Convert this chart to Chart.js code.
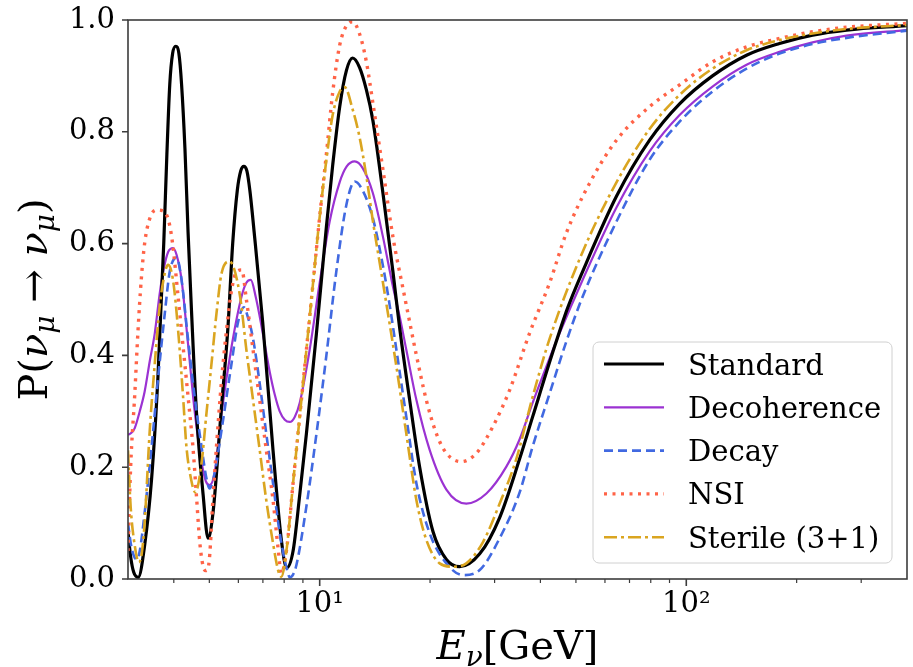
<!DOCTYPE html>
<html><head><meta charset="utf-8">
<script src="https://cdn.jsdelivr.net/npm/chart.js@4.4.1/dist/chart.umd.min.js"></script>
<style>html,body{margin:0;padding:0;background:#fff}canvas{display:block}</style>
</head><body>
<canvas id="c" width="913" height="667"></canvas>
<script>
// ---------- data ----------
const seriesLabels = ['Standard', 'Decoherence', 'Decay', 'NSI', 'Sterile (3+1)'];

const standardE = [3.0, 3.05, 3.11, 3.2, 3.33, 3.48, 3.62, 3.755, 3.83, 3.9, 3.97, 4.05, 4.13, 4.2, 4.29, 4.375, 4.47, 4.61, 4.81, 4.96, 5.12, 5.4, 5.62, 5.79, 5.96, 6.09, 6.21, 6.33, 6.45, 6.65, 6.99, 7.46, 7.86, 8.13, 8.46, 8.82, 9.2, 9.8, 10.43, 10.85, 11.34, 11.83, 12.3, 12.85, 13.41, 13.97, 14.88, 15.84, 16.52, 17.6, 18.74, 20.37, 22.16, 24.09, 27.32, 30.97, 35.11, 38.09, 43.2, 47.47, 52.14, 64.55, 79.41, 95.88, 117.9, 146, 179.6, 221, 273.6, 400];
const standardP = [0.085, 0.04, 0.012, 0.003, 0.06, 0.18, 0.36, 0.60, 0.76, 0.885, 0.94, 0.953, 0.94, 0.885, 0.77, 0.62, 0.48, 0.30, 0.15, 0.073, 0.12, 0.31, 0.45, 0.60, 0.695, 0.73, 0.738, 0.73, 0.695, 0.61, 0.46, 0.23, 0.07, 0.02, 0.05, 0.15, 0.26, 0.44, 0.63, 0.74, 0.845, 0.91, 0.932, 0.915, 0.875, 0.82, 0.69, 0.55, 0.45, 0.32, 0.20, 0.085, 0.035, 0.022, 0.045, 0.11, 0.215, 0.29, 0.405, 0.485, 0.55, 0.685, 0.785, 0.85, 0.90, 0.937, 0.958, 0.973, 0.982, 0.99];

const decoherenceE = [3.0, 3.07, 3.13, 3.23, 3.33, 3.44, 3.55, 3.66, 3.755, 3.86, 3.98, 4.07, 4.2, 4.375, 4.56, 4.76, 4.89, 5.01, 5.17, 5.4, 5.75, 6.12, 6.31, 6.49, 6.69, 6.86, 7.08, 7.31, 7.54, 7.78, 8.03, 8.29, 8.55, 8.82, 9.39, 10, 10.65, 11.34, 11.85, 12.46, 13.1, 13.97, 14.88, 15.84, 16.52, 17.23, 18.36, 19.95, 22.16, 25.12, 28.5, 32.3, 35.11, 38.09, 42.39, 45.14, 52.14, 64.55, 79.41, 95.88, 117.9, 146, 179.6, 221, 273.6, 400];
const decoherenceP = [0.258, 0.262, 0.27, 0.30, 0.335, 0.39, 0.44, 0.51, 0.555, 0.585, 0.592, 0.58, 0.535, 0.42, 0.30, 0.21, 0.175, 0.168, 0.19, 0.297, 0.416, 0.505, 0.53, 0.535, 0.505, 0.47, 0.42, 0.37, 0.33, 0.30, 0.285, 0.281, 0.29, 0.315, 0.41, 0.53, 0.64, 0.71, 0.738, 0.747, 0.735, 0.69, 0.612, 0.523, 0.47, 0.41, 0.32, 0.231, 0.16, 0.135, 0.153, 0.201, 0.25, 0.315, 0.395, 0.44, 0.535, 0.665, 0.765, 0.83, 0.881, 0.92, 0.943, 0.96, 0.972, 0.982];

const decayE = [3.0, 3.05, 3.11, 3.17, 3.23, 3.33, 3.48, 3.62, 3.78, 3.9, 4.07, 4.2, 4.375, 4.56, 4.76, 4.91, 5.01, 5.17, 5.4, 5.75, 5.99, 6.21, 6.36, 6.58, 6.86, 7.15, 7.46, 7.78, 8.12, 8.29, 8.46, 8.64, 9.2, 9.8, 10.43, 11.1, 11.83, 12.46, 13.1, 13.97, 14.88, 15.52, 16.19, 17.23, 18.36, 19.95, 22.16, 24.59, 27.32, 30.97, 35.11, 38.1, 42.39, 47.08, 52.14, 64.55, 79.41, 95.88, 117.9, 146, 179.6, 221, 273.6, 400];
const decayP = [0.10, 0.065, 0.042, 0.035, 0.05, 0.118, 0.237, 0.356, 0.475, 0.55, 0.575, 0.535, 0.428, 0.326, 0.237, 0.18, 0.162, 0.19, 0.267, 0.386, 0.46, 0.486, 0.47, 0.43, 0.35, 0.26, 0.171, 0.082, 0.02, 0.003, 0.008, 0.025, 0.13, 0.26, 0.40, 0.55, 0.67, 0.711, 0.695, 0.645, 0.56, 0.49, 0.41, 0.29, 0.171, 0.082, 0.028, 0.007, 0.016, 0.073, 0.155, 0.237, 0.332, 0.425, 0.505, 0.64, 0.75, 0.818, 0.872, 0.913, 0.94, 0.957, 0.968, 0.981];

const nsiE = [3.0, 3.05, 3.13, 3.195, 3.26, 3.33, 3.44, 3.59, 3.755, 3.875, 3.97, 4.11, 4.24, 4.375, 4.51, 4.61, 4.71, 4.8, 4.89, 4.98, 5.12, 5.23, 5.4, 5.57, 5.75, 5.94, 6.13, 6.31, 6.58, 6.86, 7.15, 7.46, 7.7, 7.86, 8.12, 8.46, 8.82, 9.2, 9.59, 10, 10.43, 10.85, 11.34, 11.83, 12.3, 12.85, 13.41, 13.97, 14.88, 15.84, 16.87, 17.41, 18.36, 19.54, 20.81, 22.16, 24.35, 26.75, 29.69, 32.97, 37.38, 42.39, 47.08, 54.48, 64.5, 79.41, 95.88, 117.9, 146, 179.6, 221, 273.6, 400];
const nsiP = [0.05, 0.2, 0.33, 0.445, 0.535, 0.60, 0.645, 0.66, 0.658, 0.64, 0.60, 0.505, 0.416, 0.326, 0.237, 0.15, 0.065, 0.025, 0.015, 0.025, 0.147, 0.237, 0.356, 0.445, 0.517, 0.55, 0.553, 0.50, 0.41, 0.32, 0.231, 0.141, 0.055, 0.01, 0.052, 0.171, 0.29, 0.41, 0.529, 0.648, 0.76, 0.87, 0.955, 0.99, 0.997, 0.975, 0.925, 0.851, 0.732, 0.612, 0.52, 0.475, 0.40, 0.32, 0.26, 0.225, 0.21, 0.225, 0.273, 0.338, 0.44, 0.53, 0.619, 0.708, 0.785, 0.845, 0.884, 0.925, 0.952, 0.967, 0.979, 0.987, 0.994];

const sterileE = [3.0, 3.05, 3.13, 3.21, 3.27, 3.33, 3.44, 3.55, 3.66, 3.78, 3.86, 3.98, 4.11, 4.24, 4.33, 4.47, 4.58, 4.76, 4.91, 5.07, 5.23, 5.4, 5.68, 6.05, 6.31, 6.58, 6.86, 7.15, 7.46, 7.7, 7.86, 8.12, 8.46, 8.82, 9.2, 9.59, 10, 10.43, 10.85, 11.34, 11.7, 12.3, 12.85, 13.41, 13.97, 14.88, 16.19, 17.23, 18.36, 19.54, 21.25, 23.09, 25.12, 27.89, 30.97, 34.39, 38.1, 42.39, 52.14, 64.55, 79.41, 95.88, 117.9, 146, 179.6, 221, 273.6, 400];
const sterileP = [0.23, 0.13, 0.06, 0.03, 0.045, 0.10, 0.267, 0.386, 0.487, 0.547, 0.562, 0.535, 0.445, 0.326, 0.237, 0.175, 0.155, 0.207, 0.296, 0.386, 0.475, 0.547, 0.568, 0.51, 0.41, 0.32, 0.231, 0.141, 0.064, 0.016, 0.004, 0.052, 0.171, 0.29, 0.41, 0.529, 0.648, 0.75, 0.83, 0.872, 0.88, 0.84, 0.79, 0.72, 0.64, 0.53, 0.38, 0.26, 0.141, 0.07, 0.028, 0.022, 0.028, 0.066, 0.135, 0.215, 0.326, 0.43, 0.585, 0.71, 0.805, 0.866, 0.913, 0.946, 0.964, 0.976, 0.984, 0.991];

const xMajorTicks = [10, 100];
const xTickLabels = ['10\u00B9', '10\u00B2'];
const xMinorTicks = [4, 5, 6, 7, 8, 9, 20, 30, 40, 50, 60, 70, 80, 90, 200, 300, 400];
const yTicks = [0, 0.2, 0.4, 0.6, 0.8, 1.0];

// ---------- chart ----------
const SERIF = "'DejaVu Serif', 'Liberation Serif', serif";
const pts = (E, P) => E.map((e, i) => ({x: e, y: P[i]}));

const styles = [
  {borderColor: '#000000', borderWidth: 3.2, borderDash: []},
  {borderColor: '#9b32d2', borderWidth: 2.2, borderDash: []},
  {borderColor: '#4169e1', borderWidth: 2.6, borderDash: [9, 5]},
  {borderColor: '#ff6347', borderWidth: 3.4, borderDash: [3, 5.5]},
  {borderColor: '#daa520', borderWidth: 2.6, borderDash: [13, 4, 3, 4]}
];
const seriesData = [
  pts(standardE, standardP), pts(decoherenceE, decoherenceP), pts(decayE, decayP),
  pts(nsiE, nsiP), pts(sterileE, sterileP)
];
const order = [3, 4, 2, 1, 0];

const datasets = seriesLabels.map((lab, i) => Object.assign({
  label: lab,
  data: seriesData[i],
  pointRadius: 0,
  fill: false,
  cubicInterpolationMode: 'monotone',
  order: order[i]
}, styles[i]));

function drawRich(ctx, segs, x, y) {
  let w = 0;
  segs.forEach(s => { ctx.font = s.font; s.w = ctx.measureText(s.t).width; w += s.w; });
  let cx = x - w / 2;
  segs.forEach(s => { ctx.font = s.font; ctx.fillText(s.t, cx, y + (s.dy || 0)); cx += s.w; });
}

const decor = {
  id: 'decor',
  afterDraw(chart) {
    const {ctx, chartArea: a, scales: {x, y}} = chart;
    ctx.save();
    ctx.strokeStyle = '#3c3c3c';
    ctx.lineWidth = 1.6;
    ctx.setLineDash([]);
    ctx.strokeRect(a.left, a.top, a.right - a.left, a.bottom - a.top);
    ctx.beginPath();
    yTicks.forEach(v => { const p = y.getPixelForValue(v); ctx.moveTo(a.left, p); ctx.lineTo(a.left - 6, p); });
    xMajorTicks.forEach(v => { const p = x.getPixelForValue(v); ctx.moveTo(p, a.bottom); ctx.lineTo(p, a.bottom + 7); });
    ctx.stroke();
    ctx.lineWidth = 1.2;
    ctx.beginPath();
    xMinorTicks.forEach(v => { const p = x.getPixelForValue(v); if (p > a.left + 1 && p < a.right - 1) { ctx.moveTo(p, a.bottom); ctx.lineTo(p, a.bottom + 4); } });
    ctx.stroke();

    ctx.fillStyle = '#000';
    ctx.textBaseline = 'alphabetic';
    ctx.textAlign = 'left';
    const big = '40px ' + SERIF, bigI = 'italic 40px ' + SERIF, subI = 'italic 28px ' + SERIF;
    drawRich(ctx, [
      {t: 'E', font: bigI}, {t: '\u03BD', font: subI, dy: 7}, {t: '[GeV]', font: big}
    ], (a.left + a.right) / 2, 659);
    ctx.save();
    ctx.translate(47, (a.top + a.bottom) / 2);
    ctx.rotate(-Math.PI / 2);
    drawRich(ctx, [
      {t: 'P(', font: big}, {t: '\u03BD', font: bigI}, {t: '\u03BC', font: subI, dy: 7},
      {t: ' \u2192 ', font: big}, {t: '\u03BD', font: bigI}, {t: '\u03BC', font: subI, dy: 7},
      {t: ')', font: big}
    ], 0, 0);
    ctx.restore();

    const bx = 593, by = 342, bw = 299, bh = 221;
    ctx.beginPath();
    ctx.roundRect(bx, by, bw, bh, 6);
    ctx.fillStyle = 'rgba(255,255,255,0.85)';
    ctx.fill();
    ctx.strokeStyle = '#d0d0d0';
    ctx.lineWidth = 1;
    ctx.stroke();
    chart.data.datasets.forEach((ds, i) => {
      const cy = 364 + i * 43.3;
      ctx.beginPath();
      ctx.setLineDash(ds.borderDash || []);
      ctx.strokeStyle = ds.borderColor;
      ctx.lineWidth = ds.borderWidth;
      ctx.moveTo(604, cy);
      ctx.lineTo(664, cy);
      ctx.stroke();
      ctx.setLineDash([]);
      ctx.fillStyle = '#000';
      ctx.font = '29px ' + SERIF;
      ctx.fillText(ds.label, 688, cy + 10.5);
    });
    ctx.restore();
  }
};

new Chart(document.getElementById('c'), {
  type: 'line',
  data: {datasets},
  options: {
    responsive: false,
    animation: false,
    devicePixelRatio: 1,
    layout: {padding: {left: 0, right: 6, top: 20, bottom: 0}},
    plugins: {legend: {display: false}, tooltip: {enabled: false}},
    scales: {
      x: {
        type: 'logarithmic',
        min: 3, max: 400,
        afterBuildTicks: s => { s.ticks = xMajorTicks.map(v => ({value: v, major: true})); },
        afterFit: s => { s.height = 88; s.paddingLeft = 0; s.paddingRight = 0; },
        grid: {display: false, drawTicks: false},
        border: {display: false},
        ticks: {
          autoSkip: false, maxRotation: 0, padding: 8, color: '#000',
          font: {family: SERIF, size: 29},
          callback: (v, i) => xTickLabels[i]
        }
      },
      y: {
        type: 'linear',
        min: 0, max: 1,
        afterBuildTicks: s => { s.ticks = yTicks.map(v => ({value: v})); },
        afterFit: s => { s.width = 128; s.paddingTop = 0; s.paddingBottom = 0; },
        grid: {display: false, drawTicks: false},
        border: {display: false},
        ticks: {
          padding: 13, color: '#000',
          font: {family: SERIF, size: 29},
          callback: v => Number(v).toFixed(1)
        }
      }
    }
  },
  plugins: [decor]
});
</script>
</body></html>
